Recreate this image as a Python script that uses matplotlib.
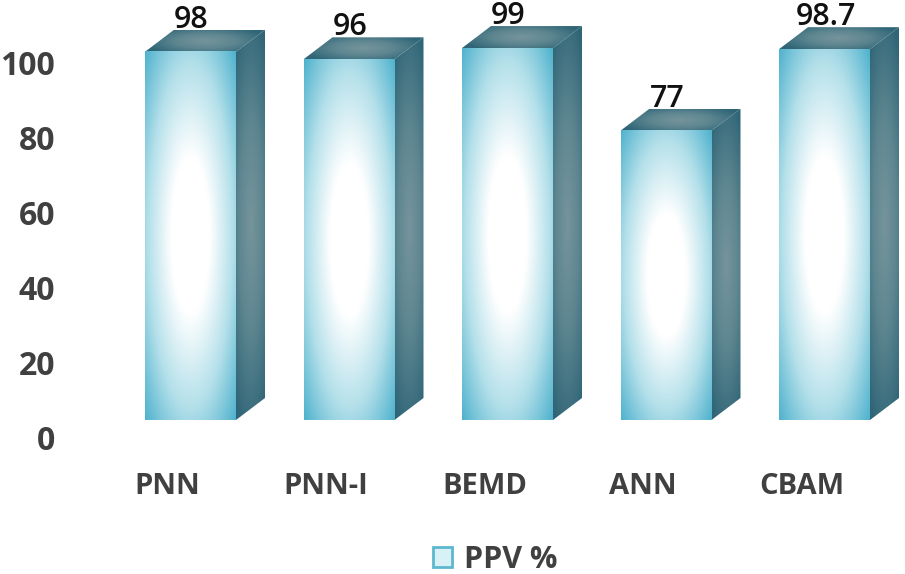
import numpy as np
import matplotlib
matplotlib.use("Agg")
import matplotlib.pyplot as plt
from matplotlib.colors import LinearSegmentedColormap
from matplotlib.patches import Polygon, Patch
from matplotlib.transforms import ScaledTranslation

categories = ["PNN", "PNN-I", "BEMD", "ANN", "CBAM"]
values = [98, 96, 99, 77, 98.7]
value_labels = ["98", "96", "99", "77", "98.7"]
y_ticks = [0, 20, 40, 60, 80, 100]
series_name = "PPV %"

W, H, DPI = 905, 574, 100
plt.rcParams["font.family"] = ["Open Sans", "DejaVu Sans"]
fig = plt.figure(figsize=(W / DPI, H / DPI), dpi=DPI, facecolor="white")

# axes box in pixels
L, R, T, B = 60, 905, 0, 420
ax = fig.add_axes([L / W, 1 - B / H, (R - L) / W, (B - T) / H])
px_x = 158.5
px_y = 3.757
x0_px = 190.5
ax.set_xlim((L - x0_px) / px_x, (R - x0_px) / px_x)
ax.set_ylim(0, (B - T) / px_y)
xlim, ylim = ax.get_xlim(), ax.get_ylim()

bar_w = 91 / px_x
dx = 29 / px_x
dy = 22 / px_y

front_cmap = LinearSegmentedColormap.from_list(
    "front", [(0, "#ffffff"), (0.30, "#ffffff"), (0.66, "#b4e0ea"), (1, "#4fb2cd")])
dark_cmap = LinearSegmentedColormap.from_list(
    "dark", [(0, "#76949c"), (0.45, "#5f8791"), (1, "#2f6577")])


def gradient(rx=1.0, ry=1.0, n=160):
    u, v = np.meshgrid(np.linspace(-1, 1, n), np.linspace(-1, 1, n))
    return np.clip(np.sqrt((u / rx) ** 2 + (v / ry) ** 2) / np.sqrt(2), 0, 1)


for i, val in enumerate(values):
    xl, xr = i - bar_w / 2, i + bar_w / 2
    # side face
    side = Polygon([(xr, 0), (xr + dx, dy), (xr + dx, val + dy), (xr, val)],
                   closed=True, transform=ax.transData, fc="none", ec="none")
    ax.add_patch(side)
    im = ax.imshow(gradient(1.2, 0.8), cmap=dark_cmap, vmin=0, vmax=1, aspect="auto",
                   extent=[xr, xr + dx, 0, val + dy], zorder=2, origin="lower")
    im.set_clip_path(side)
    # top face
    top = Polygon([(xl, val), (xr, val), (xr + dx, val + dy), (xl + dx, val + dy)],
                  closed=True, transform=ax.transData, fc="none", ec="none")
    ax.add_patch(top)
    im = ax.imshow(gradient(0.75, 1.0), cmap=dark_cmap, vmin=0, vmax=1, aspect="auto",
                   extent=[xl, xr + dx, val, val + dy], zorder=2, origin="lower")
    im.set_clip_path(top)
    # front face
    ax.imshow(gradient(), cmap=front_cmap, vmin=0, vmax=1, aspect="auto",
              extent=[xl, xr, 0, val], zorder=3, origin="lower")
    ax.annotate(value_labels[i], (i, val), xytext=(0.7, 32 * 72 / DPI),
                textcoords="offset points", ha="center", va="center",
                fontsize=22, fontweight="semibold", color="#111111",
                annotation_clip=False, zorder=5)

ax.set_xlim(xlim)
ax.set_ylim(ylim)

for s in ax.spines.values():
    s.set_visible(False)
ax.patch.set_visible(False)

ax.set_yticks(y_ticks)
ax.set_yticklabels([str(t) for t in y_ticks], fontsize=23, fontweight="bold", color="#404040")
ax.set_xticks(range(len(categories)))
ax.set_xticklabels(categories, fontsize=21, fontweight="bold", color="#404040")
ax.tick_params(axis="both", length=0)
ax.tick_params(axis="y", pad=5 * 72 / DPI)
ax.tick_params(axis="x", pad=52 * 72 / DPI)

shift_y = ScaledTranslation(0, -18 / DPI, fig.dpi_scale_trans)
shift_x = ScaledTranslation(-23 / DPI, 0, fig.dpi_scale_trans)
for lab in ax.get_yticklabels():
    lab.set_transform(lab.get_transform() + shift_y)
for lab in ax.get_xticklabels():
    lab.set_transform(lab.get_transform() + shift_x)

leg = fig.legend(handles=[Patch(facecolor="#d8f1f6", edgecolor="#5db7cf", linewidth=2, label=series_name)],
                 loc="center", bbox_to_anchor=(495.5 / W, 1 - 559.5 / H), frameon=False,
                 handlelength=0.62, handleheight=0.62, handletextpad=0.4,
                 labelcolor="#404040", prop={"size": 22, "weight": "bold"})

fig.savefig("out.png", dpi=DPI, facecolor="white")
